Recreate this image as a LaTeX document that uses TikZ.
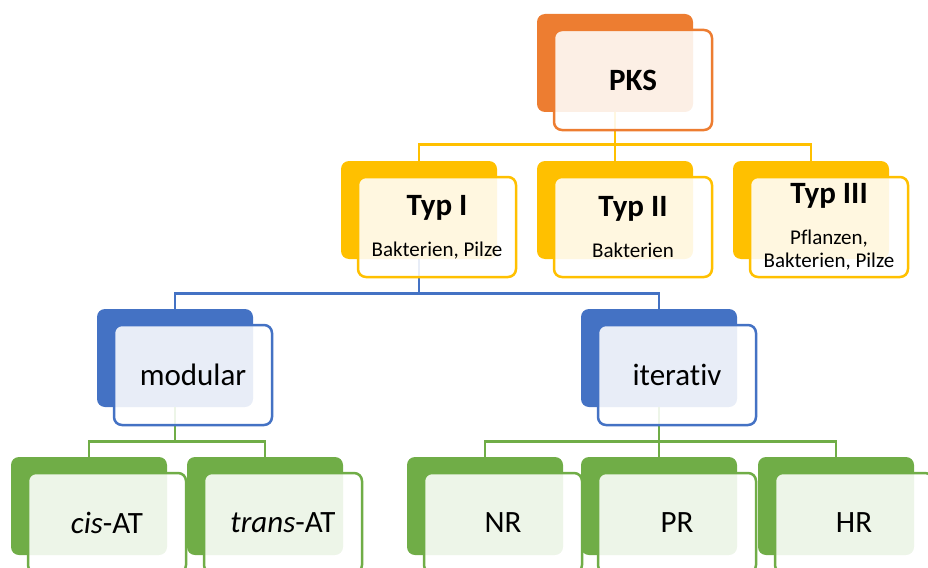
\documentclass[tikz,border=0pt]{standalone}
\usepackage{fontspec}
\setmainfont[Ligatures=NoCommon]{Carlito}

\definecolor{pksorange}{HTML}{ED7D31}
\definecolor{typyellow}{HTML}{FFC000}
\definecolor{armblue}{HTML}{4472C4}
\definecolor{leafgreen}{HTML}{70AD47}

\newcommand{\bigtxt}{\fontsize{31}{36}\selectfont}
\newcommand{\subtxt}{\fontsize{21}{22}\selectfont}

\begin{document}
\begin{tikzpicture}[
        x = 1pt, y = -1pt,
        semithick % line style
    ]
    \tikzstyle{back box}=[
        rectangle,
        rounded corners = 8pt,
        minimum width = 156pt,
        minimum height = 98pt,
        inner sep = 0pt
    ]

    \tikzstyle{front box}=[
        rectangle,
        rounded corners = 8pt,
        line width = 2.5pt,
        fill = white,
        fill opacity = 0.88,
        text opacity = 1,
        minimum width = 158pt,
        minimum height = 100pt,
        inner sep = 0pt,
        align = center,
        font = \bigtxt
    ]

    \tikzstyle{link}=[line width = 2.4pt]

    \useasboundingbox (0, 0) rectangle (928, 567);

    % back boxes
    \node[back box, fill=pksorange] (pksB)  at (615, 63)  {};
    \node[back box, fill=typyellow] (typ1B) at (419, 210) {};
    \node[back box, fill=typyellow] (typ2B) at (615, 210) {};
    \node[back box, fill=typyellow] (typ3B) at (811, 210) {};
    \node[back box, fill=armblue]   (modB)  at (175, 358) {};
    \node[back box, fill=armblue]   (iterB) at (659, 358) {};
    \node[back box, fill=leafgreen] (cisB)  at (89, 506)  {};
    \node[back box, fill=leafgreen] (transB) at (265, 506) {};
    \node[back box, fill=leafgreen] (nrB)   at (485, 506) {};
    \node[back box, fill=leafgreen] (prB)   at (659, 506) {};
    \node[back box, fill=leafgreen] (hrB)   at (836, 506) {};

    % connectors
    \draw[link, typyellow] (pksB.south) -- ++(0, 32) -| (typ1B.north);
    \draw[link, typyellow] (pksB.south) -- ++(0, 32) -| (typ3B.north);
    \draw[link, typyellow] (pksB.south) -- (typ2B.north);
    \draw[link, armblue] (typ1B.south) -- ++(0, 34) -| (modB.north);
    \draw[link, armblue] (typ1B.south) -- ++(0, 34) -| (iterB.north);
    \draw[link, leafgreen] (modB.south) -- ++(0, 34) -| (cisB.north);
    \draw[link, leafgreen] (modB.south) -- ++(0, 34) -| (transB.north);
    \draw[link, leafgreen] (iterB.south) -- ++(0, 34) -| (nrB.north);
    \draw[link, leafgreen] (iterB.south) -- ++(0, 34) -| (hrB.north);
    \draw[link, leafgreen] (iterB.south) -- (prB.north);

    % front boxes
    \node[front box, draw=pksorange] (pks) at ([shift={(18, 17)}]pksB.center) {\textbf{PKS}};
    \node[front box, draw=typyellow] (typ1) at ([shift={(18, 17)}]typ1B.center)
        {\textbf{Typ I}\\[5pt]\subtxt Bakterien, Pilze};
    \node[front box, draw=typyellow] (typ2) at ([shift={(18, 17)}]typ2B.center)
        {\textbf{Typ II}\\[5pt]\subtxt Bakterien};
    \node[front box, draw=typyellow] (typ3) at ([shift={(18, 17)}]typ3B.center)
        {\textbf{Typ III}\\[5pt]\subtxt Pflanzen,\\[-13pt]\subtxt Bakterien, Pilze};
    \node[front box, draw=armblue] (mod) at ([shift={(18, 17)}]modB.center) {modular};
    \node[front box, draw=armblue] (iter) at ([shift={(18, 17)}]iterB.center) {iterativ};
    \node[front box, draw=leafgreen] (cis) at ([shift={(18, 17)}]cisB.center) {\textit{cis}-AT};
    \node[front box, draw=leafgreen] (trans) at ([shift={(18, 17)}]transB.center) {\textit{trans}-AT};
    \node[front box, draw=leafgreen] (nr) at ([shift={(18, 17)}]nrB.center) {NR};
    \node[front box, draw=leafgreen] (pr) at ([shift={(18, 17)}]prB.center) {PR};
    \node[front box, draw=leafgreen] (hr) at ([shift={(18, 17)}]hrB.center) {HR};

\end{tikzpicture}
\end{document}
